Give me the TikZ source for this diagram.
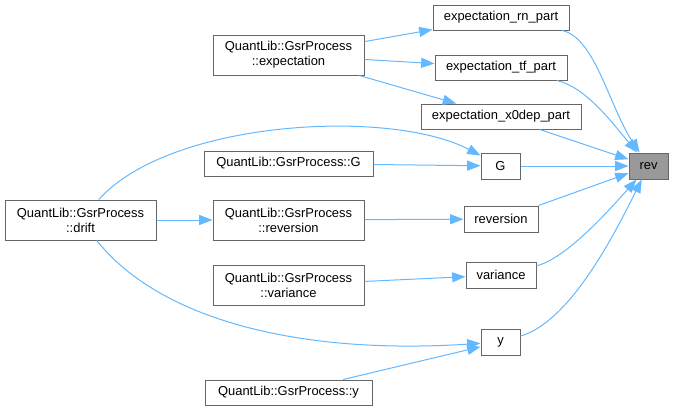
\documentclass[tikz,border=0pt]{standalone}
\usepackage{fontspec}
\setmainfont{Liberation Sans}
\usepackage{xcolor}
\usetikzlibrary{arrows.meta}

\definecolor{edgeblue}{HTML}{63B8FF}
\definecolor{boxgray}{HTML}{666666}
\definecolor{revgray}{HTML}{999999}

\begin{document}
\begin{tikzpicture}
            [x=0.75pt, y=-0.75pt, font=\fontsize{9.7}{11.3}\selectfont,
             fn/.style={draw=boxgray, fill=white, line width=0.75pt, inner sep=0pt, align=center, minimum height=19.5pt},
             fntwo/.style={fn, minimum height=30pt},
             edge/.style={draw=edgeblue, line width=0.75pt, -{Triangle[length=10pt, width=7.5pt]}}]
            \useasboundingbox (0,0) rectangle (673,411);

            % callee column
            \node[fn, fill=revgray, minimum width=29.25pt] (rev) at (648.5,166) {rev};

            % direct callers
            \node[fn, minimum width=102pt, minimum height=18.75pt] (rnpart) at (501,17.5) {expectation\_rn\_part};
            \node[fn, minimum width=99pt, minimum height=18.75pt] (tfpart) at (501,67.5) {expectation\_tf\_part};
            \node[fn, minimum width=120pt, minimum height=18.75pt] (xpart) at (501,116.5) {expectation\_x0dep\_part};
            \node[fn, minimum width=29.25pt] (g) at (500.5,166) {G};
            \node[fn, minimum width=55.5pt] (reversion) at (501,219) {reversion};
            \node[fn, minimum width=52.5pt] (variance) at (501,275) {variance};
            \node[fn, minimum width=29.25pt] (y) at (500.5,342) {y};

            % GsrProcess members
            \node[fntwo, minimum width=113.25pt] (qlexp) at (288.5,55) {QuantLib::GsrProcess\\::expectation};
            \node[fn, minimum width=126.75pt, minimum height=18.75pt] (qlg) at (288.5,163.5) {QuantLib::GsrProcess::G};
            \node[fntwo, minimum width=113.25pt] (qlrev) at (288.5,220) {QuantLib::GsrProcess\\::reversion};
            \node[fntwo, minimum width=113.25pt] (qlvar) at (288.5,285) {QuantLib::GsrProcess\\::variance};
            \node[fn, minimum width=125.25pt, minimum height=18.75pt] (qly) at (288.5,392.5) {QuantLib::GsrProcess::y};
            \node[fntwo, minimum width=113.25pt] (drift) at (80.5,220) {QuantLib::GsrProcess\\::drift};

            % calls
            \draw[edge] (qlexp) -- (rnpart);
            \draw[edge] (qlexp) -- (tfpart);
            \draw[edge] (qlexp) -- (xpart);
            \draw[edge] (drift) .. controls (170,120) and (390,108) .. (g);
            \draw[edge] (qlg) -- (g);
            \draw[edge] (drift) -- (qlrev);
            \draw[edge] (qlrev) -- (reversion);
            \draw[edge] (qlvar) -- (variance);
            \draw[edge] (drift) .. controls (160,320) and (300,355) .. (y);
            \draw[edge] (qly) -- (y);

            \draw[edge] (rnpart) .. controls (595,37.5) and (609,106) .. (rev);
            \draw[edge] (tfpart) .. controls (585,87) and (610,120) .. (rev);
            \draw[edge] (xpart) -- (rev);
            \draw[edge] (g) -- (rev);
            \draw[edge] (reversion) -- (rev);
            \draw[edge] (variance) .. controls (565,258.5) and (604,216) .. (rev);
            \draw[edge] (y) .. controls (570,321.5) and (613.5,236) .. (rev);
        \end{tikzpicture}
\end{document}
